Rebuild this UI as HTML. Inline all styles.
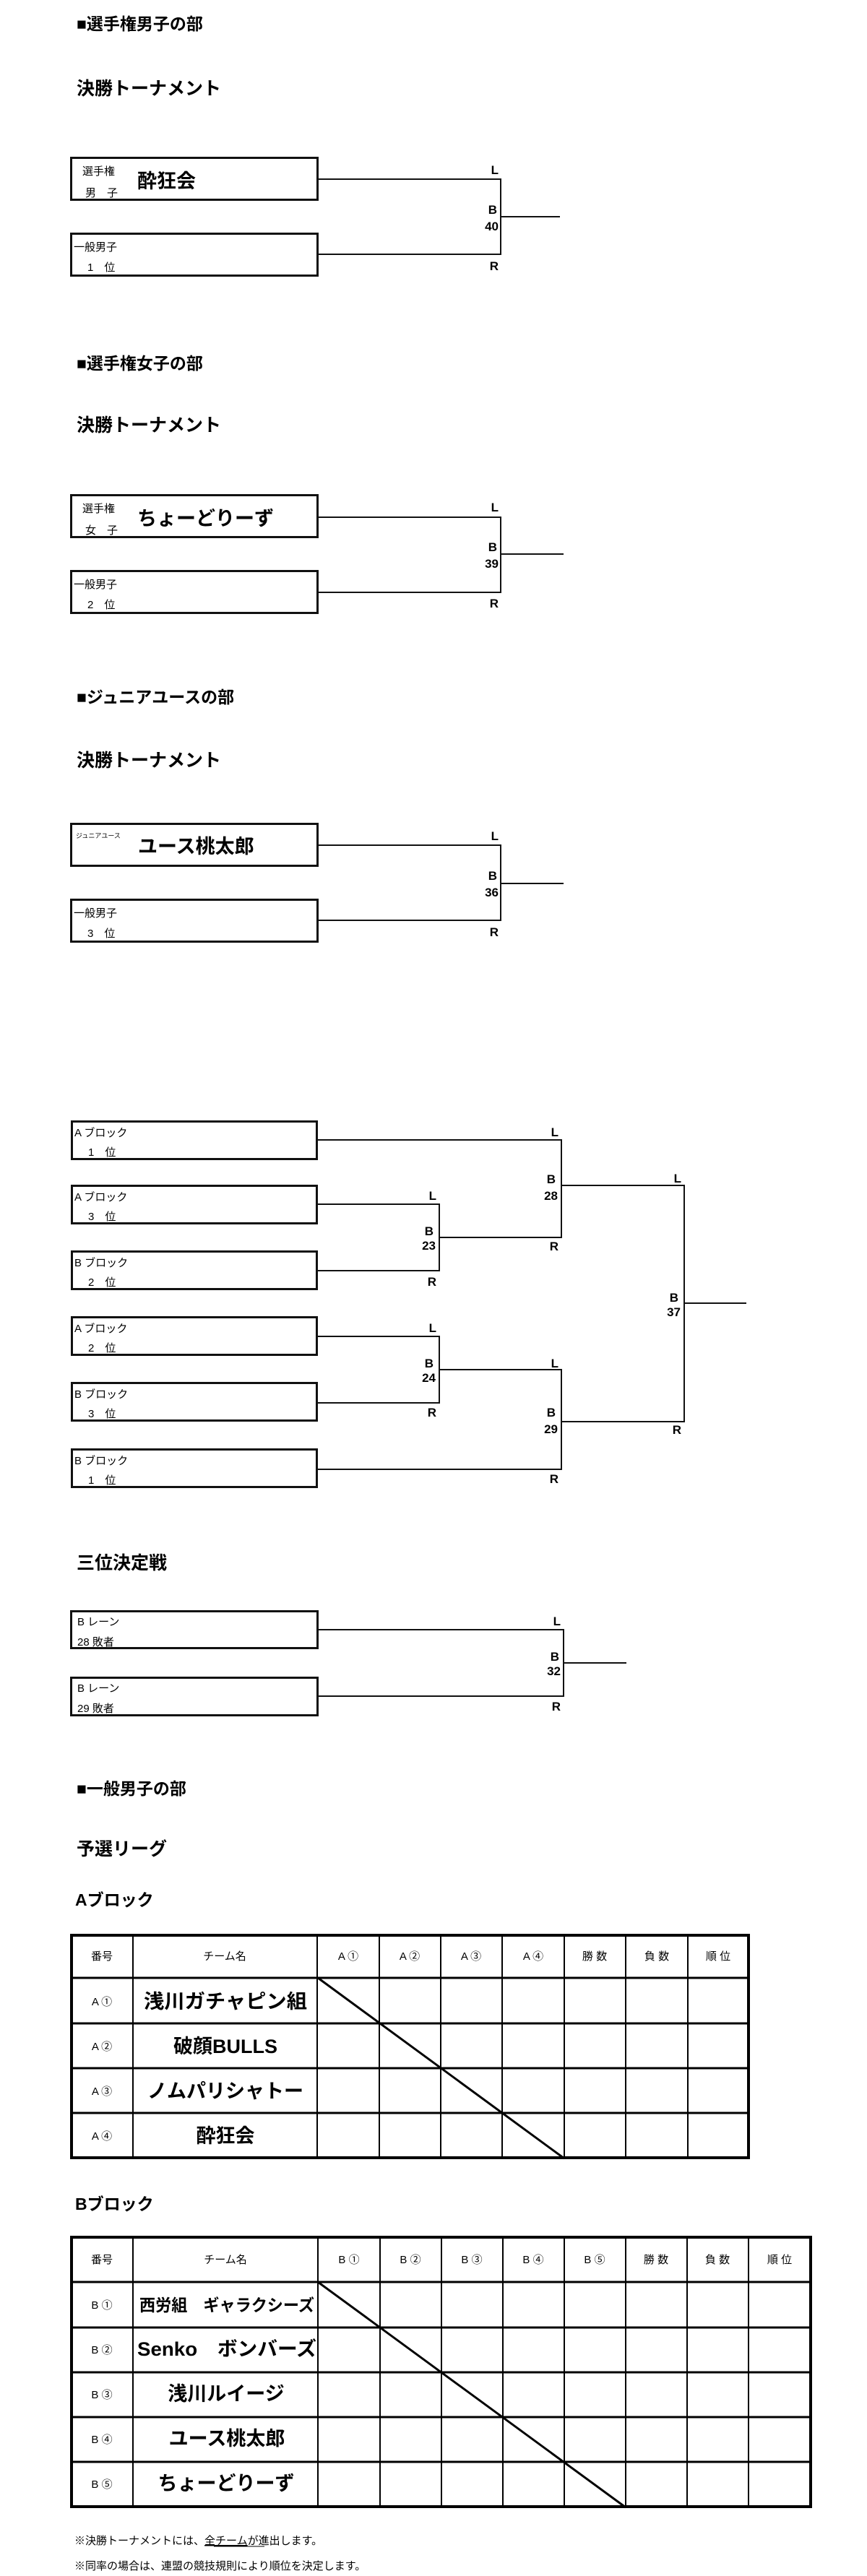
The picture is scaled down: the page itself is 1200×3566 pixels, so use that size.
<!DOCTYPE html>
<html><head><meta charset="utf-8"><style>
html,body{margin:0;padding:0;background:#fff;}
svg{display:block;}
text{font-family:"Liberation Sans","Noto Sans CJK JP",sans-serif;fill:#000;}
.h{font-weight:bold;font-size:23px;}
.h2{font-weight:bold;font-size:25px;}
.s{font-size:15px;}
.lb{font-weight:bold;font-size:17px;text-anchor:end;}
.nm{font-weight:bold;font-size:27px;}
.th{font-size:15px;text-anchor:middle;}
.tn{font-weight:bold;font-size:27px;text-anchor:middle;}
</style></head><body>
<svg width="1200" height="3566" viewBox="0 0 1200 3566" xmlns="http://www.w3.org/2000/svg">
<g fill="none" stroke="#111">
<!-- section 1 -->
<rect x="98.5" y="218.5" width="341" height="58" stroke-width="3"/>
<rect x="98.5" y="323.5" width="341" height="58" stroke-width="3"/>
<polyline points="440,248 693,248 693,352 440,352" stroke-width="2"/>
<line x1="693" y1="300" x2="775" y2="300" stroke-width="2"/>
<!-- section 2 -->
<rect x="98.5" y="685.5" width="341" height="58" stroke-width="3"/>
<rect x="98.5" y="790.5" width="341" height="58" stroke-width="3"/>
<polyline points="440,716 693,716 693,820 440,820" stroke-width="2"/>
<line x1="693" y1="767" x2="780" y2="767" stroke-width="2"/>
<!-- section 3 -->
<rect x="98.5" y="1140.5" width="341" height="58" stroke-width="3"/>
<rect x="98.5" y="1245.5" width="341" height="58" stroke-width="3"/>
<polyline points="440,1170 693,1170 693,1274 440,1274" stroke-width="2"/>
<line x1="693" y1="1223" x2="780" y2="1223" stroke-width="2"/>
<!-- big bracket boxes -->
<rect x="99.5" y="1552.5" width="339" height="52" stroke-width="3"/>
<rect x="99.5" y="1641.5" width="339" height="52" stroke-width="3"/>
<rect x="99.5" y="1732.5" width="339" height="52" stroke-width="3"/>
<rect x="99.5" y="1823.5" width="339" height="52" stroke-width="3"/>
<rect x="99.5" y="1914.5" width="339" height="52" stroke-width="3"/>
<rect x="99.5" y="2006.5" width="339" height="52" stroke-width="3"/>
<polyline points="440,1667 608,1667 608,1759 440,1759" stroke-width="2"/>
<polyline points="440,1850 608,1850 608,1942 440,1942" stroke-width="2"/>
<polyline points="440,1578 777,1578 777,1713 608,1713" stroke-width="2"/>
<polyline points="608,1896 777,1896 777,2034 440,2034" stroke-width="2"/>
<polyline points="777,1641 947,1641 947,1968 777,1968" stroke-width="2"/>
<line x1="947" y1="1804" x2="1033" y2="1804" stroke-width="2"/>
<!-- third place -->
<rect x="98.5" y="2230.5" width="341" height="51" stroke-width="3"/>
<rect x="98.5" y="2322.5" width="341" height="52" stroke-width="3"/>
<polyline points="440,2256 780,2256 780,2348 440,2348" stroke-width="2"/>
<line x1="780" y1="2302" x2="867" y2="2302" stroke-width="2"/>
<!-- A table -->
<g stroke="#000">
<line x1="98" y1="2738" x2="1037" y2="2738" stroke-width="3"/>
<line x1="98" y1="2801" x2="1037" y2="2801" stroke-width="3"/>
<line x1="98" y1="2863" x2="1037" y2="2863" stroke-width="3"/>
<line x1="98" y1="2925" x2="1037" y2="2925" stroke-width="3"/>
<line x1="184" y1="2678" x2="184" y2="2988" stroke-width="2"/>
<line x1="439" y1="2678" x2="439" y2="2988" stroke-width="2"/>
<line x1="525" y1="2678" x2="525" y2="2988" stroke-width="2"/>
<line x1="610" y1="2678" x2="610" y2="2988" stroke-width="2"/>
<line x1="695" y1="2678" x2="695" y2="2988" stroke-width="2"/>
<line x1="781" y1="2678" x2="781" y2="2988" stroke-width="2"/>
<line x1="866" y1="2678" x2="866" y2="2988" stroke-width="2"/>
<line x1="952" y1="2678" x2="952" y2="2988" stroke-width="2"/>
<rect x="99" y="2679" width="937" height="308" stroke-width="4"/>
<line x1="440" y1="2738" x2="781" y2="2988" stroke-width="3"/>
</g>
<!-- B table -->
<g stroke="#000">
<line x1="98" y1="3159" x2="1123" y2="3159" stroke-width="3"/>
<line x1="98" y1="3222" x2="1123" y2="3222" stroke-width="3"/>
<line x1="98" y1="3284" x2="1123" y2="3284" stroke-width="3"/>
<line x1="98" y1="3346" x2="1123" y2="3346" stroke-width="3"/>
<line x1="98" y1="3408" x2="1123" y2="3408" stroke-width="3"/>
<line x1="184" y1="3096" x2="184" y2="3471" stroke-width="2"/>
<line x1="440" y1="3096" x2="440" y2="3471" stroke-width="2"/>
<line x1="526" y1="3096" x2="526" y2="3471" stroke-width="2"/>
<line x1="611" y1="3096" x2="611" y2="3471" stroke-width="2"/>
<line x1="696" y1="3096" x2="696" y2="3471" stroke-width="2"/>
<line x1="781" y1="3096" x2="781" y2="3471" stroke-width="2"/>
<line x1="866" y1="3096" x2="866" y2="3471" stroke-width="2"/>
<line x1="951" y1="3096" x2="951" y2="3471" stroke-width="2"/>
<line x1="1036" y1="3096" x2="1036" y2="3471" stroke-width="2"/>
<rect x="99" y="3097" width="1023" height="373" stroke-width="4"/>
<line x1="440" y1="3159" x2="866" y2="3471" stroke-width="3"/>
</g>
</g>

<!-- headings -->
<text class="h" x="106" y="41">■選手権男子の部</text>
<text class="h2" x="106" y="131">決勝トーナメント</text>
<text class="h" x="106" y="511">■選手権女子の部</text>
<text class="h2" x="106" y="597">決勝トーナメント</text>
<text class="h" x="106" y="973">■ジュニアユースの部</text>
<text class="h2" x="106" y="1061">決勝トーナメント</text>
<text class="h2" x="106" y="2172">三位決定戦</text>
<text class="h" x="106" y="2484">■一般男子の部</text>
<text class="h2" x="106" y="2568">予選リーグ</text>
<text class="h" x="104" y="2638">Aブロック</text>
<text class="h" x="104" y="3059">Bブロック</text>

<!-- section 1 text -->
<text class="s" x="114" y="242">選手権</text>
<text class="s" x="118" y="272">男　子</text>
<text class="nm" x="190" y="260">酔狂会</text>
<text class="s" x="102" y="347">一般男子</text>
<text class="s" x="121" y="375">1　位</text>
<text class="lb" x="690" y="241">L</text>
<text class="lb" x="688" y="296">B</text>
<text class="lb" x="690" y="319">40</text>
<text class="lb" x="690" y="374">R</text>

<!-- section 2 text -->
<text class="s" x="114" y="709">選手権</text>
<text class="s" x="118" y="739">女　子</text>
<text class="nm" x="190" y="727">ちょーどりーず</text>
<text class="s" x="102" y="814">一般男子</text>
<text class="s" x="121" y="842">2　位</text>
<text class="lb" x="690" y="708">L</text>
<text class="lb" x="688" y="763">B</text>
<text class="lb" x="690" y="786">39</text>
<text class="lb" x="690" y="841">R</text>

<!-- section 3 text -->
<text x="105" y="1160" style="font-size:9px">ジュニアユース</text>
<text class="nm" x="191" y="1181">ユース桃太郎</text>
<text class="s" x="102" y="1269">一般男子</text>
<text class="s" x="121" y="1297">3　位</text>
<text class="lb" x="690" y="1163">L</text>
<text class="lb" x="688" y="1218">B</text>
<text class="lb" x="690" y="1241">36</text>
<text class="lb" x="690" y="1296">R</text>

<!-- big bracket text -->
<text class="s" x="103" y="1573">A ブロック</text><text class="s" x="122" y="1600">1　位</text>
<text class="s" x="103" y="1662">A ブロック</text><text class="s" x="122" y="1689">3　位</text>
<text class="s" x="103" y="1753">B ブロック</text><text class="s" x="122" y="1780">2　位</text>
<text class="s" x="103" y="1844">A ブロック</text><text class="s" x="122" y="1871">2　位</text>
<text class="s" x="103" y="1935">B ブロック</text><text class="s" x="122" y="1962">3　位</text>
<text class="s" x="103" y="2027">B ブロック</text><text class="s" x="122" y="2054">1　位</text>

<text class="lb" x="604" y="1661">L</text>
<text class="lb" x="600" y="1710">B</text>
<text class="lb" x="603" y="1730">23</text>
<text class="lb" x="604" y="1780">R</text>
<text class="lb" x="604" y="1844">L</text>
<text class="lb" x="600" y="1893">B</text>
<text class="lb" x="603" y="1913">24</text>
<text class="lb" x="604" y="1961">R</text>
<text class="lb" x="773" y="1573">L</text>
<text class="lb" x="769" y="1638">B</text>
<text class="lb" x="772" y="1661">28</text>
<text class="lb" x="773" y="1731">R</text>
<text class="lb" x="773" y="1893">L</text>
<text class="lb" x="769" y="1961">B</text>
<text class="lb" x="772" y="1984">29</text>
<text class="lb" x="773" y="2053">R</text>
<text class="lb" x="943" y="1637">L</text>
<text class="lb" x="939" y="1802">B</text>
<text class="lb" x="942" y="1822">37</text>
<text class="lb" x="943" y="1985">R</text>

<!-- third place text -->
<text class="s" x="107" y="2250">B レーン</text>
<text class="s" x="107" y="2278">28 敗者</text>
<text class="s" x="107" y="2342">B レーン</text>
<text class="s" x="107" y="2370">29 敗者</text>
<text class="lb" x="776" y="2250">L</text>
<text class="lb" x="774" y="2299">B</text>
<text class="lb" x="776" y="2319">32</text>
<text class="lb" x="776" y="2368">R</text>

<!-- A table text -->
<text class="th" x="141" y="2713">番号</text>
<text class="th" x="311" y="2713">チーム名</text>
<text class="th" x="482" y="2713">A ①</text>
<text class="th" x="567" y="2713">A ②</text>
<text class="th" x="652" y="2713">A ③</text>
<text class="th" x="738" y="2713">A ④</text>
<text class="th" x="823" y="2713">勝 数</text>
<text class="th" x="909" y="2713">負 数</text>
<text class="th" x="994" y="2713">順 位</text>
<text class="th" x="141" y="2776">A ①</text>
<text class="th" x="141" y="2838">A ②</text>
<text class="th" x="141" y="2900">A ③</text>
<text class="th" x="141" y="2962">A ④</text>
<text class="tn" x="312" y="2780" textLength="226" lengthAdjust="spacingAndGlyphs">浅川ガチャピン組</text>
<text class="tn" x="312" y="2842">破顔BULLS</text>
<text class="tn" x="312" y="2904">ノムパリシャトー</text>
<text class="tn" x="312" y="2966">酔狂会</text>

<!-- B table text -->
<text class="th" x="141" y="3133">番号</text>
<text class="th" x="312" y="3133">チーム名</text>
<text class="th" x="483" y="3133">B ①</text>
<text class="th" x="568" y="3133">B ②</text>
<text class="th" x="653" y="3133">B ③</text>
<text class="th" x="738" y="3133">B ④</text>
<text class="th" x="823" y="3133">B ⑤</text>
<text class="th" x="908" y="3133">勝 数</text>
<text class="th" x="993" y="3133">負 数</text>
<text class="th" x="1079" y="3133">順 位</text>
<text class="th" x="141" y="3196">B ①</text>
<text class="th" x="141" y="3258">B ②</text>
<text class="th" x="141" y="3320">B ③</text>
<text class="th" x="141" y="3382">B ④</text>
<text class="th" x="141" y="3444">B ⑤</text>
<text class="tn" x="314" y="3199" style="font-size:23px" textLength="242" lengthAdjust="spacingAndGlyphs">西労組　ギャラクシーズ</text>
<text class="tn" x="314" y="3261" textLength="248" lengthAdjust="spacingAndGlyphs">Senko　ボンバーズ</text>
<text class="tn" x="313" y="3323">浅川ルイージ</text>
<text class="tn" x="314" y="3385">ユース桃太郎</text>
<text class="tn" x="313" y="3447">ちょーどりーず</text>

<!-- footer -->
<text x="103" y="3522" style="font-size:15px">※決勝トーナメントには、<tspan text-decoration="underline">全チーム</tspan>が進出します。</text>
<line x1="296" y1="3525" x2="366" y2="3525" stroke="#000" stroke-width="1"/>
<text x="103" y="3557" style="font-size:15px">※同率の場合は、連盟の競技規則により順位を決定します。</text>
</svg>
</body></html>
